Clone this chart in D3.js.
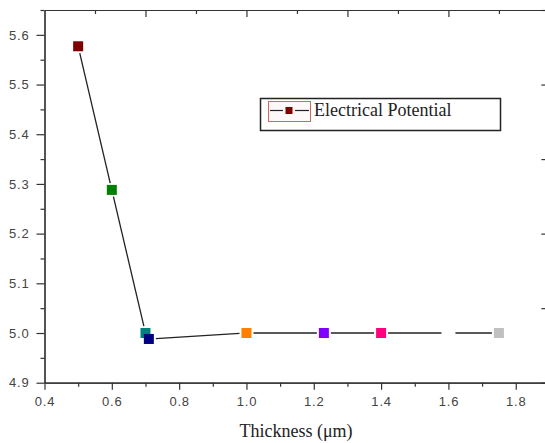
<!DOCTYPE html>
<html>
<head>
<meta charset="utf-8">
<script src="https://cdn.jsdelivr.net/npm/d3@7"></script>
<style>
  body { margin: 0; background: #fff; }
  .tick text { font-family: "Liberation Sans", Arial, sans-serif; font-size: 13px; fill: #444; letter-spacing: 0.8px; }
  .axis path, .axis line { stroke: #333; stroke-width: 1.2; }
</style>
</head>
<body>
<div id="chart"></div>
<script>
// data
var thickness = [0.5, 0.6, 0.7, 0.71, 1.0, 1.23, 1.4, 1.6, 1.75];
var potential = [5.577, 5.288, 5.0, 4.988, 5.0, 5.0, 5.0, 5.0, 5.0];
var pointColors = ["#800000", "#008000", "#008080", "#000080", "#ff8000", "#8000ff", "#ff0080", "#ffffff", "#c0c0c0"];

var xMajor = [0.4, 0.6, 0.8, 1.0, 1.2, 1.4, 1.6, 1.8];
var xMinor = [0.5, 0.7, 0.9, 1.1, 1.3, 1.5, 1.7, 1.9];
var yMajor = [4.9, 5.0, 5.1, 5.2, 5.3, 5.4, 5.5, 5.6];
var yMinor = [4.95, 5.05, 5.15, 5.25, 5.35, 5.45, 5.55, 5.65];
var topMajor = [0.7, 1.0, 1.3, 1.6, 1.9];
var topMinor = [0.55, 0.85, 1.15, 1.45, 1.75];
var rightTicks = [4.9, 5.05, 5.2, 5.35, 5.5, 5.65];

var seriesName = "Electrical Potential";
var xTitle = "Thickness (\u03bcm)";

// **************************************************
var width = 545, height = 443;
var plotLeft = 44.5, plotTop = 10, plotRight = 549.4, plotBottom = 382.7;

var svg = d3.select("#chart").append("svg")
    .attr("width", width)
    .attr("height", height);

var x = d3.scaleLinear().domain([0.4, 1.9]).range([plotLeft, plotRight]);
var y = d3.scaleLinear().domain([4.9, 5.65]).range([plotBottom, plotTop]);

// bottom axis
svg.append("g").attr("class", "axis")
    .attr("transform", "translate(0," + plotBottom + ")")
    .call(d3.axisBottom(x).tickValues(xMinor).tickSize(4).tickSizeOuter(0).tickFormat(""));
svg.append("g").attr("class", "axis")
    .attr("transform", "translate(0," + plotBottom + ")")
    .call(d3.axisBottom(x).tickValues(xMajor).tickSize(7).tickPadding(7).tickSizeOuter(0).tickFormat(d3.format(".1f")));

// left axis
svg.append("g").attr("class", "axis")
    .attr("transform", "translate(" + plotLeft + ",0)")
    .call(d3.axisLeft(y).tickValues(yMinor).tickSize(4).tickSizeOuter(0).tickFormat(""));
svg.append("g").attr("class", "axis")
    .attr("transform", "translate(" + plotLeft + ",0)")
    .call(d3.axisLeft(y).tickValues(yMajor).tickSize(8).tickPadding(7).tickSizeOuter(0).tickFormat(d3.format(".1f")));

// top axis, ticks inward
svg.append("g").attr("class", "axis")
    .attr("transform", "translate(0," + plotTop + ")")
    .call(d3.axisBottom(x).tickValues(topMinor).tickSize(4).tickSizeOuter(0).tickFormat(""));
svg.append("g").attr("class", "axis")
    .attr("transform", "translate(0," + plotTop + ")")
    .call(d3.axisBottom(x).tickValues(topMajor).tickSize(7).tickSizeOuter(0).tickFormat(""));

// right axis, ticks inward
svg.append("g").attr("class", "axis")
    .attr("transform", "translate(" + plotRight + ",0)")
    .call(d3.axisLeft(y).tickValues(rightTicks).tickSize(8).tickSizeOuter(0).tickFormat(""));

// line segments, with a small gap round each symbol
var pts = thickness.map(function(t, i) { return [x(t), y(potential[i])]; });
var gap = 7;
for (var i = 0; i < pts.length - 1; i++) {
    var a = pts[i], b = pts[i + 1];
    var dx = b[0] - a[0], dy = b[1] - a[1];
    var len = Math.sqrt(dx * dx + dy * dy);
    if (len <= 2 * gap) continue;
    var ux = dx / len, uy = dy / len;
    svg.append("line")
        .attr("x1", a[0] + ux * gap).attr("y1", a[1] + uy * gap)
        .attr("x2", b[0] - ux * gap).attr("y2", b[1] - uy * gap)
        .attr("stroke", "#222")
        .attr("stroke-width", 1.3);
}

// symbols
var size = 10;
svg.selectAll("rect.pt")
    .data(thickness)
    .enter().append("rect")
    .attr("class", "pt")
    .attr("x", function(d) { return x(d) - size / 2; })
    .attr("y", function(d, i) { return y(potential[i]) - size / 2; })
    .attr("width", size)
    .attr("height", size)
    .attr("fill", function(d, i) { return pointColors[i]; });

// x title
svg.append("text")
    .attr("x", 296)
    .attr("y", 437)
    .attr("text-anchor", "middle")
    .attr("font-family", "'Liberation Serif', 'Times New Roman', serif")
    .attr("font-size", 18)
    .attr("fill", "#222")
    .text(xTitle);

// legend
var lg = svg.append("g");
lg.append("rect")
    .attr("x", 260.5).attr("y", 98.5)
    .attr("width", 240).attr("height", 32)
    .attr("fill", "#fff")
    .attr("stroke", "#222")
    .attr("stroke-width", 1.5);
lg.append("rect")
    .attr("x", 268.5).attr("y", 101.5)
    .attr("width", 42).attr("height", 20)
    .attr("fill", "#fff8f8")
    .attr("stroke", "#d06868")
    .attr("stroke-width", 1);
lg.append("line")
    .attr("x1", 270).attr("x2", 283).attr("y1", 110.5).attr("y2", 110.5)
    .attr("stroke", "#222").attr("stroke-width", 1.2);
lg.append("line")
    .attr("x1", 295).attr("x2", 309).attr("y1", 110.5).attr("y2", 110.5)
    .attr("stroke", "#222").attr("stroke-width", 1.2);
lg.append("rect")
    .attr("x", 285.5).attr("y", 107)
    .attr("width", 7).attr("height", 7)
    .attr("fill", pointColors[0]);
lg.append("text")
    .attr("x", 314)
    .attr("y", 116)
    .attr("font-family", "'Liberation Serif', 'Times New Roman', serif")
    .attr("font-size", 18)
    .attr("fill", "#222")
    .text(seriesName);
</script>
</body>
</html>
